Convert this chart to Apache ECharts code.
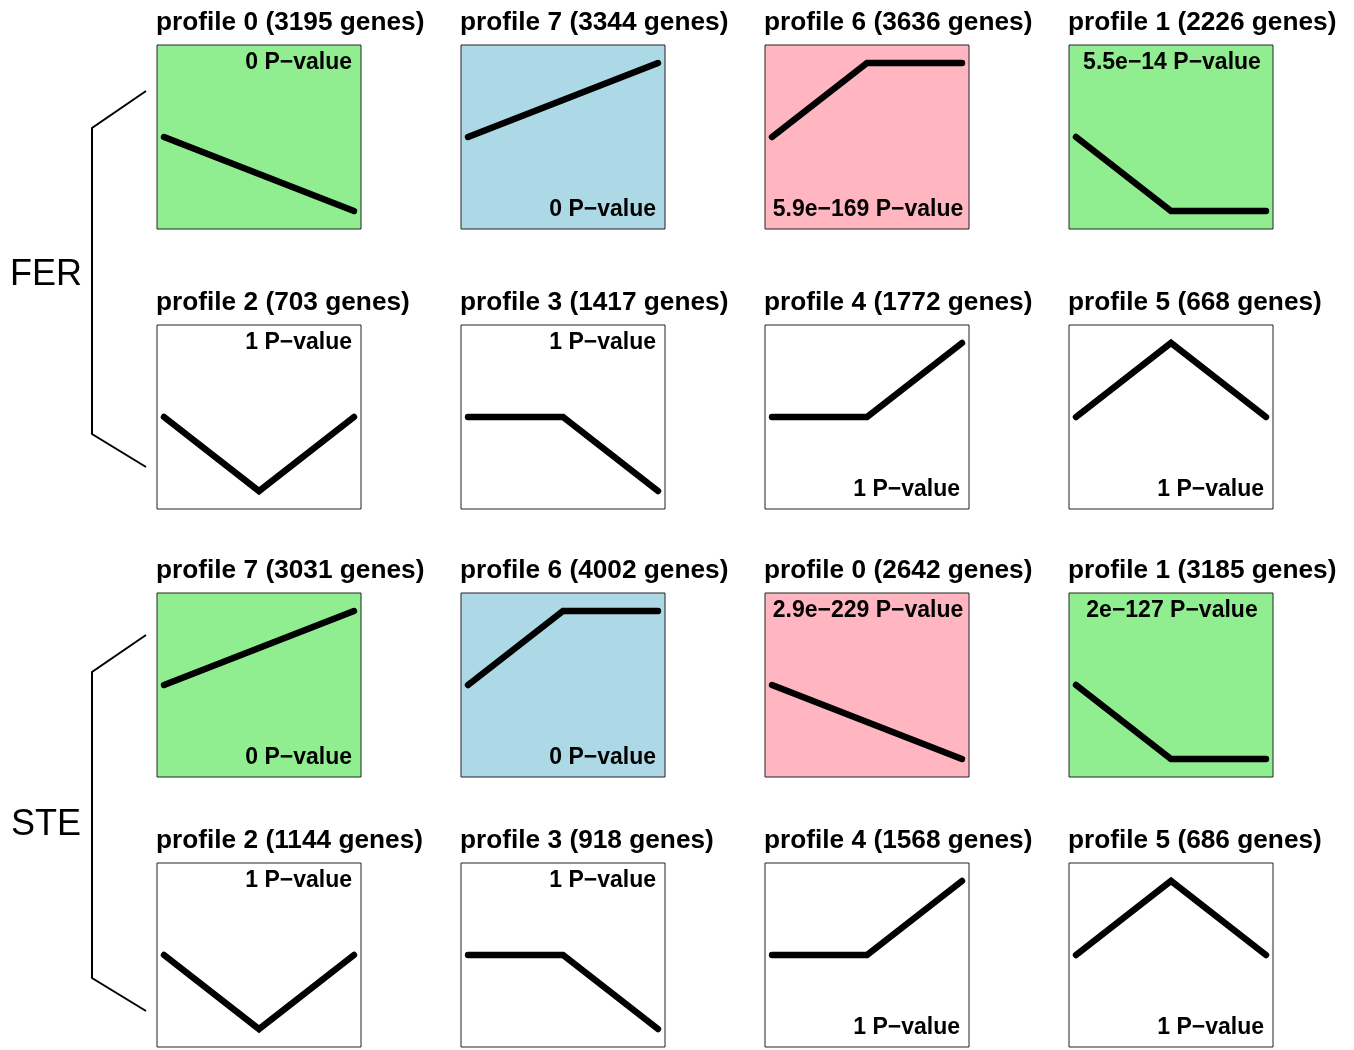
<!DOCTYPE html>
<html>
<head>
<meta charset="utf-8">
<script src="https://cdn.jsdelivr.net/npm/echarts@6/dist/echarts.min.js"></script>
<style>
  html, body { margin: 0; padding: 0; background: #fff; }
  #main { width: 1354px; height: 1050px; }
</style>
</head>
<body>
<div id="main"></div>
<script>
// panel order: row by row, left to right
const panelTitles = [
  'profile 0 (3195 genes)', 'profile 7 (3344 genes)', 'profile 6 (3636 genes)', 'profile 1 (2226 genes)',
  'profile 2 (703 genes)', 'profile 3 (1417 genes)', 'profile 4 (1772 genes)', 'profile 5 (668 genes)',
  'profile 7 (3031 genes)', 'profile 6 (4002 genes)', 'profile 0 (2642 genes)', 'profile 1 (3185 genes)',
  'profile 2 (1144 genes)', 'profile 3 (918 genes)', 'profile 4 (1568 genes)', 'profile 5 (686 genes)'
]
const panelPValues = [
  '0', '0', '5.9e\u2212169', '5.5e\u221214',
  '1', '1', '1', '1',
  '0', '0', '2.9e\u2212229', '2e\u2212127',
  '1', '1', '1', '1'
]
// where the p-value sits in the box
const pvaluePlace = [
  'top', 'bottom', 'bottom', 'top',
  'top', 'top', 'bottom', 'bottom',
  'bottom', 'bottom', 'top', 'top',
  'top', 'top', 'bottom', 'bottom'
]
const panelColors = [
  '#90EE90', '#ADD8E6', '#FFB6C1', '#90EE90',
  '#FFFFFF', '#FFFFFF', '#FFFFFF', '#FFFFFF',
  '#90EE90', '#ADD8E6', '#FFB6C1', '#90EE90',
  '#FFFFFF', '#FFFFFF', '#FFFFFF', '#FFFFFF'
]
// profile shapes (3 time points)
const profileShapes = {
  0: [0, -1, -2],
  1: [0, -1, -1],
  2: [0, -1, 0],
  3: [0, 0, -1],
  4: [0, 0, 1],
  5: [0, 1, 0],
  6: [0, 1, 1],
  7: [0, 1, 2]
}
const panelProfiles = [0, 7, 6, 1, 2, 3, 4, 5, 7, 6, 0, 1, 2, 3, 4, 5]
const timePoints = [0, 1, 2]
const groupLabels = ['FER', 'STE']

// layout
const colLeft = [157, 461, 765, 1069]
const rowTop = [45, 325, 593, 863]
const boxW = 204
const boxH = 184
const bracketTop = [91, 635]
const labelY = [275, 825]

const chart = echarts.init(document.getElementById('main'))

let grids = []
let xAxes = []
let yAxes = []
let series = []
let graphics = []

for (let i = 0; i < 16; i++) {
  let r = Math.floor(i / 4)
  let c = i % 4
  let left = colLeft[c]
  let top = rowTop[r]
  let vals = profileShapes[panelProfiles[i]]
  let m = Math.max.apply(null, vals.map(Math.abs))
  grids.push({
    left: left, top: top, width: boxW, height: boxH,
    show: true,
    backgroundColor: panelColors[i],
    borderColor: '#222',
    borderWidth: 1
  })
  xAxes.push({ type: 'value', gridIndex: i, show: false, min: -0.074, max: 2.074 })
  yAxes.push({ type: 'value', gridIndex: i, show: false, min: -m * 1.243, max: m * 1.243 })
  series.push({
    type: 'line',
    xAxisIndex: i,
    yAxisIndex: i,
    data: timePoints.map((t, k) => [t, vals[k]]),
    showSymbol: false,
    silent: true,
    lineStyle: { color: '#000', width: 6.5, cap: 'round', join: 'miter' }
  })
  // title above box
  graphics.push({
    type: 'text',
    x: left - 1,
    y: top - 22,
    scaleX: 1.05,
    style: {
      text: panelTitles[i],
      font: 'bold 25px "Liberation Sans", Arial, sans-serif',
      fill: '#000',
      textAlign: 'left',
      textVerticalAlign: 'middle'
    }
  })
  // p-value inside box: short ones hug the right side, long ones are centred
  let longLabel = panelPValues[i].length > 3
  graphics.push({
    type: 'text',
    x: longLabel ? left + boxW / 2 + 1 : left + boxW - 9,
    y: pvaluePlace[i] === 'top' ? top + 18 : top + boxH - 19,
    z: 10,
    style: {
      text: panelPValues[i] + ' P\u2212value',
      font: 'bold 23px "Liberation Sans", Arial, sans-serif',
      fill: '#000',
      textAlign: longLabel ? 'center' : 'right',
      textVerticalAlign: 'middle'
    }
  })
}

// brackets and group labels
groupLabels.forEach((g, j) => {
  let t = bracketTop[j]
  graphics.push({
    type: 'polyline',
    shape: { points: [[146, t], [92, t + 37], [92, t + 343], [146, t + 376]] },
    style: { stroke: '#000', lineWidth: 2, fill: null }
  })
  graphics.push({
    type: 'text',
    x: 46,
    y: labelY[j],
    style: {
      text: g,
      font: '36px "Liberation Sans", Arial, sans-serif',
      fill: '#000',
      textAlign: 'center',
      textVerticalAlign: 'middle'
    }
  })
})

chart.setOption({
  animation: false,
  backgroundColor: '#fff',
  grid: grids,
  xAxis: xAxes,
  yAxis: yAxes,
  series: series,
  graphic: graphics
})
</script>
</body>
</html>
